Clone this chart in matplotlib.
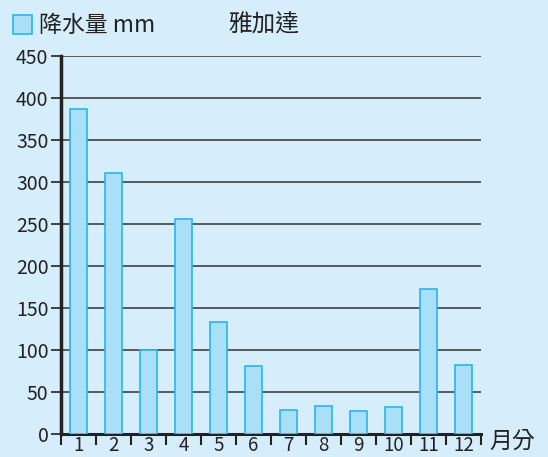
import numpy as np
import matplotlib.pyplot as plt
from matplotlib.patches import Rectangle

plt.rcParams['font.family'] = ['Noto Sans CJK TC', 'DejaVu Sans']

# ---------------------------------data---------------------------------
months = ['1', '2', '3', '4', '5', '6', '7', '8', '9', '10', '11', '12']
rain = [387, 311, 100, 256, 133, 81, 29, 33, 27, 32, 173, 82]
yticks = [0, 50, 100, 150, 200, 250, 300, 350, 400, 450]

bg = '#d6eefb'
fig = plt.figure(figsize=(5.48, 4.57), dpi=100, facecolor=bg)
ax = fig.add_axes([0.1113, 0.0503, 0.7664, 0.8272], facecolor=bg)

x = np.arange(len(months))
ax.bar(x, rain, width=0.47, color='#aadff8', edgecolor='#29b6ee', linewidth=1.2, zorder=3)

ax.set_xlim(-0.5, len(months) - 0.5)
ax.set_ylim(0, 450)
ax.set_yticks(yticks)
ax.set_yticklabels([str(v) for v in yticks], fontsize=14, color='#222222')
ax.yaxis.grid(True, color='#333333', linewidth=1.1, zorder=1)
ax.set_xticks(x)
ax.set_xticklabels(months, fontsize=13.5, color='#222222')
ax.tick_params(axis='x', length=0, pad=1)
ax.set_xticks(np.arange(-0.5, len(months)), minor=True)
ax.tick_params(axis='x', which='minor', length=8, width=1.5, color='#222222')
ax.tick_params(axis='y', length=7, width=1.2, color='#222222', pad=2)

for s in ['top', 'right']:
    ax.spines[s].set_visible(False)
ax.spines['left'].set_linewidth(2.5)
ax.spines['left'].set_color('#222222')
ax.spines['bottom'].set_linewidth(2.2)
ax.spines['bottom'].set_color('#222222')

# legend & title
fig.patches.append(Rectangle((13 / 548, 1 - 34 / 457), 19 / 548, 19 / 457,
                             transform=fig.transFigure, facecolor='#aadff8',
                             edgecolor='#29b6ee', linewidth=1.2))
fig.text(39 / 548, 1 - 25 / 457, '降水量 mm', fontsize=16.5, va='center', ha='left', color='#222222')
fig.text(264 / 548, 1 - 25 / 457, '雅加達', fontsize=17, va='center', ha='center', color='#222222')
fig.text(489 / 548, 1 - 441 / 457, '月分', fontsize=16.5, va='center', ha='left', color='#222222')

plt.savefig('out.png', dpi=100, facecolor=bg)
